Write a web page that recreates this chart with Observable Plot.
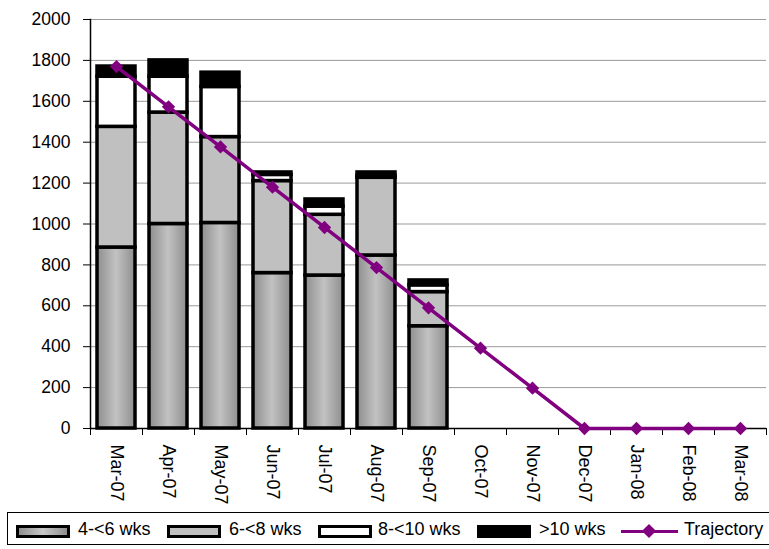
<!DOCTYPE html>
<html>
<head>
<meta charset="utf-8">
<script src="https://cdn.jsdelivr.net/npm/d3@7"></script>
<script src="https://cdn.jsdelivr.net/npm/@observablehq/plot@0.6"></script>
<style>
  html, body { margin: 0; background: #fff; overflow: hidden; font-family: "Liberation Sans", Arial, sans-serif; }
  #wrap { position: relative; width: 769px; height: 549px; overflow: hidden; }
  #chart { position: absolute; left: 0; top: 0; }
  #legend { position: absolute; box-sizing: border-box; left: 7px; top: 512px; width: 770px; height: 33px; border: 1px solid #000;
            font-size: 18px; }
  .sw { position: absolute; box-sizing: border-box; top: 12px; width: 54px; height: 13px; border: 3px solid #000; }
  .lt { position: absolute; top: 6px; line-height: 20px; white-space: nowrap; }
  .ln { position: absolute; top: 17px; height: 3px; background: #800080; }
  .dm { position: absolute; top: 13px; width: 10px; height: 10px; background: #800080; transform: rotate(45deg); }
</style>
</head>
<body>
<div id="wrap">
<div id="chart"></div>
<div id="legend"></div>
</div>
<script>
const months = ["Mar-07","Apr-07","May-07","Jun-07","Jul-07","Aug-07","Sep-07","Oct-07","Nov-07","Dec-07","Jan-08","Feb-08","Mar-08"];
const barMonths = ["Mar-07","Apr-07","May-07","Jun-07","Jul-07","Aug-07","Sep-07"];
const series = ["4-<6 wks", "6-<8 wks", "8-<10 wks", ">10 wks"];
const wk4to6  = [885, 1000, 1005, 760, 748, 846, 500];
const wk6to8  = [590, 545, 420, 450, 297, 380, 167];
const wk8to10 = [245, 175, 245, 30, 40, 10, 33];
const wk10plus = [50, 80, 70, 12, 35, 16, 24];
const trajectory = [1770, 1573, 1377, 1180, 983, 787, 590, 393, 197, 0, 0, 0, 0];
const yTicks = [0, 200, 400, 600, 800, 1000, 1200, 1400, 1600, 1800, 2000];

const seriesValues = [wk4to6, wk6to8, wk8to10, wk10plus];
const rows = [];
series.forEach((s, i) => barMonths.forEach((m, j) => rows.push({month: m, series: s, value: seriesValues[i][j]})));
const traj = months.map((m, i) => ({month: m, value: trajectory[i]}));

const chart = Plot.plot({
  width: 769,
  height: 510,
  marginTop: 19,
  marginBottom: 82,
  marginLeft: 90,
  marginRight: 3,
  style: {fontFamily: "'Liberation Sans', Arial, sans-serif", fontSize: "17px", color: "#000", background: "#fff"},
  x: {domain: months, paddingInner: 0.27, paddingOuter: 0.135, label: null},
  y: {domain: [0, 2000], label: null},
  color: {domain: series, range: ["url(#grad46)", "#c0c0c0", "#ffffff", "#000000"]},
  marks: [
    Plot.gridY(yTicks, {stroke: "#9a9a9a", strokeOpacity: 1, strokeWidth: 1}),
    Plot.barY(rows, {x: "month", y: "value", fill: "series", stroke: "#000", strokeWidth: 3.5, order: null}),
    Plot.ruleY([0], {stroke: "#000", strokeWidth: 1.5}),
    Plot.frame({anchor: "left", stroke: "#000", strokeWidth: 1.5}),
    Plot.axisY(yTicks, {tickSize: 7, tickPadding: 13, tickFormat: d => String(d), fontSize: 17.5}),
    Plot.axisX({tickSize: 0, tickRotate: 90, tickPadding: 16, fontSize: 18}),
    Plot.axisX({tickSize: 7, dx: -26, tickFormat: () => ""}),
    Plot.axisX(["Mar-08"], {tickSize: 7, dx: 26, tickFormat: () => ""}),
    Plot.line(traj, {x: "month", y: "value", stroke: "#800080", strokeWidth: 3.5}),
    Plot.dot(traj, {x: "month", y: "value", symbol: "diamond2", r: 6, fill: "#800080", stroke: "none"})
  ]
});

const svg = d3.select(chart);
const defs = svg.insert("defs", ":first-child");
const g = defs.append("linearGradient").attr("id", "grad46").attr("x1", "0").attr("x2", "1").attr("y1", "0").attr("y2", "0");
g.append("stop").attr("offset", "0%").attr("stop-color", "#8e8e8e");
g.append("stop").attr("offset", "50%").attr("stop-color", "#c2c2c2");
g.append("stop").attr("offset", "100%").attr("stop-color", "#8e8e8e");

document.getElementById("chart").appendChild(chart);

// legend (positions relative to legend box at left 7)
const legend = document.getElementById("legend");
const swFills = ["linear-gradient(to right, #8e8e8e, #c8c8c8, #8e8e8e)", "#c0c0c0", "#ffffff", "#000000"];
const swX = [8, 159, 310, 469];
const txX = [70, 221, 370, 531];
series.forEach((s, i) => {
  const sw = document.createElement("div");
  sw.className = "sw";
  sw.style.left = swX[i] + "px";
  sw.style.background = swFills[i];
  legend.appendChild(sw);
  const t = document.createElement("span");
  t.className = "lt";
  t.style.left = txX[i] + "px";
  t.textContent = s;
  legend.appendChild(t);
});
legend.insertAdjacentHTML("beforeend",
  '<div class="ln" style="left:613px;width:57px"></div>' +
  '<div class="dm" style="left:636px"></div>' +
  '<span class="lt" style="left:676px">Trajectory</span>');
</script>
</body>
</html>
